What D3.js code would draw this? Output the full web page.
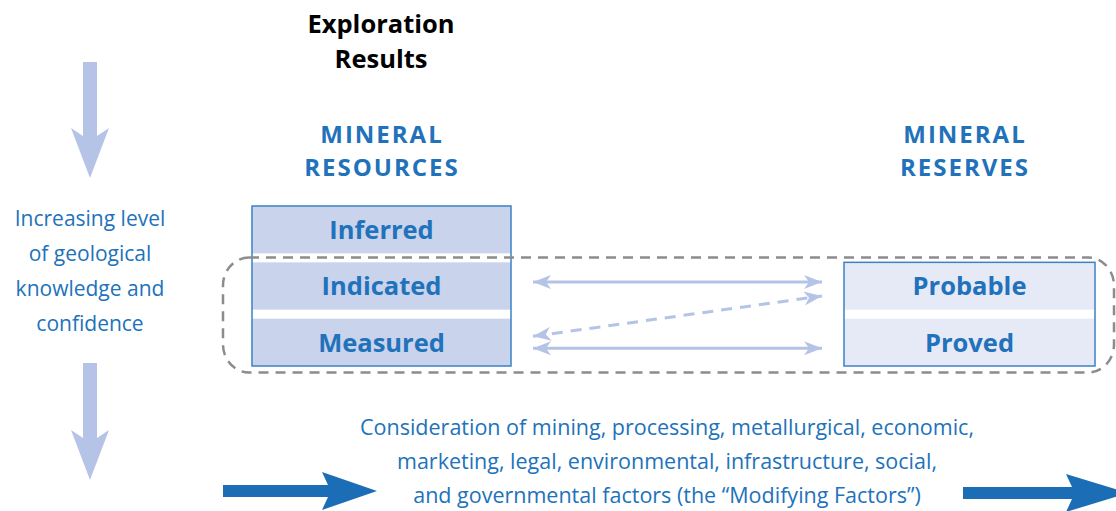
<!DOCTYPE html>
<html>
<head>
<meta charset="utf-8">
<script src="https://cdn.jsdelivr.net/npm/d3@7"></script>
<style>
  html, body { margin: 0; padding: 0; background: #ffffff; }
  svg { display: block; }
  text { font-family: "Open Sans", "Noto Sans", sans-serif; }
</style>
</head>
<body>
<svg id="chart" width="1116" height="511"></svg>
<script>
// ---- data ----
const titleLines = ["Exploration", "Results"];
const resourceHeading = ["MINERAL", "RESOURCES"];
const reserveHeading = ["MINERAL", "RESERVES"];
const resourceCategories = ["Inferred", "Indicated", "Measured"];
const reserveCategories = ["Probable", "Proved"];
const reserveAlignsWith = ["Indicated", "Measured"];
const sideLabelLines = ["Increasing level", "of geological", "knowledge and", "confidence"];
const modifyingLines = [
  "Consideration of mining, processing, metallurgical, economic,",
  "marketing, legal, environmental, infrastructure, social,",
  "and governmental factors (the \u201cModifying Factors\u201d)"
];
// links between categories
const links = [
  { a: "Indicated", b: "Probable", dashed: false },
  { a: "Measured", b: "Probable", dashed: true },
  { a: "Measured", b: "Proved", dashed: false }
];

// ---- colours ----
const blueText = "#2172ba";
const paleArrow = "#b5c4e6";
const resFill = "#c9d3ec";
const resvFill = "#e6e9f6";
const boxStroke = "#3a83c6";
const darkArrow = "#1b6db5";
const dashGrey = "#8c8c8c";

const svg = d3.select("#chart");

// ---- scales ----
const rowScale = d3.scaleBand().domain(resourceCategories).range([206, 366]).paddingInner(0.16).paddingOuter(0);
const colX = d3.scaleOrdinal().domain(["resources", "reserves"]).range([252, 844]);
const colW = d3.scaleOrdinal().domain(["resources", "reserves"]).range([259, 251]);

// multi-line text helper
function multiline(lines, x, y0, step, size, weight, fill, spacing) {
  const g = svg.append("g");
  g.selectAll("text").data(lines).join("text")
    .attr("text-anchor", "middle").attr("font-size", size).attr("font-weight", weight)
    .attr("fill", fill).attr("letter-spacing", spacing || null)
    .attr("x", x).attr("y", (d, i) => y0 + i * step).attr("dy", "0.36em").text(d => d);
  return g;
}

// ---- top title & headings ----
multiline(titleLines, 381, 24, 35, 25.5, 700, "#000");
multiline(resourceHeading, 382, 134, 33, 24, 700, blueText, 2);
multiline(reserveHeading, 965, 134, 33, 24, 700, blueText, 2);

// ---- resource box ----
const gRes = svg.append("g");
const rx0 = colX("resources"), rw = colW("resources");
gRes.selectAll("rect.row").data(resourceCategories).join("rect")
  .attr("class", "row").attr("x", rx0).attr("y", d => rowScale(d))
  .attr("width", rw).attr("height", rowScale.bandwidth()).attr("fill", resFill);
gRes.append("rect").attr("x", rx0).attr("y", rowScale.range()[0])
  .attr("width", rw).attr("height", rowScale.range()[1] - rowScale.range()[0])
  .attr("fill", "none").attr("stroke", boxStroke).attr("stroke-width", 1.5);
gRes.selectAll("text").data(resourceCategories).join("text")
  .attr("x", rx0 + rw / 2).attr("y", d => rowScale(d) + rowScale.bandwidth() / 2).attr("dy", "0.36em")
  .attr("text-anchor", "middle").attr("font-size", 25.5).attr("font-weight", 700)
  .attr("fill", blueText).text(d => d);

// ---- reserve box ----
const gResv = svg.append("g");
const vx0 = colX("reserves"), vw = colW("reserves");
const reserveY = d => rowScale(reserveAlignsWith[reserveCategories.indexOf(d)]);
gResv.selectAll("rect.row").data(reserveCategories).join("rect")
  .attr("class", "row").attr("x", vx0).attr("y", d => reserveY(d))
  .attr("width", vw).attr("height", rowScale.bandwidth()).attr("fill", resvFill);
gResv.append("rect").attr("x", vx0).attr("y", rowScale(reserveAlignsWith[0]))
  .attr("width", vw).attr("height", rowScale.range()[1] - rowScale(reserveAlignsWith[0]))
  .attr("fill", "none").attr("stroke", boxStroke).attr("stroke-width", 1.5);
gResv.selectAll("text").data(reserveCategories).join("text")
  .attr("x", vx0 + vw / 2).attr("y", d => reserveY(d) + rowScale.bandwidth() / 2).attr("dy", "0.36em")
  .attr("text-anchor", "middle").attr("font-size", 25.5).attr("font-weight", 700)
  .attr("fill", blueText).text(d => d);

// ---- dashed rounded enclosure ----
svg.append("rect")
  .attr("x", 223).attr("y", 257.5).attr("width", 891).attr("height", 115).attr("rx", 26).attr("ry", 28)
  .attr("fill", "none").attr("stroke", dashGrey).attr("stroke-width", 2.5)
  .attr("stroke-dasharray", "10,7");

// ---- double-headed link arrows ----
const defs = svg.append("defs");
defs.append("marker").attr("id", "head").attr("viewBox", "0 0 18 14")
  .attr("refX", 18).attr("refY", 7).attr("markerWidth", 18).attr("markerHeight", 14)
  .attr("markerUnits", "userSpaceOnUse").attr("orient", "auto-start-reverse")
  .append("path").attr("d", "M0,0 L18,7 L0,14 L5,7 Z").attr("fill", paleArrow);
const linkX0 = 533, linkX1 = 822;
const yOf = name => resourceCategories.includes(name)
  ? rowScale(name) + rowScale.bandwidth() / 2
  : reserveY(name) + rowScale.bandwidth() / 2;
const linkOffset = { "Indicated-Probable": [-4, -4], "Measured-Probable": [-6, 10], "Measured-Proved": [6, 6] };
svg.append("g").selectAll("line").data(links).join("line")
  .attr("x1", linkX0).attr("x2", linkX1)
  .attr("y1", d => yOf(d.a) + linkOffset[d.a + "-" + d.b][0])
  .attr("y2", d => yOf(d.b) + linkOffset[d.a + "-" + d.b][1])
  .attr("stroke", paleArrow).attr("stroke-width", 3)
  .attr("stroke-dasharray", d => d.dashed ? "11,8" : null)
  .attr("marker-start", "url(#head)").attr("marker-end", "url(#head)");

// ---- vertical pale arrows ----
function vArrow(x, y0, yHead, yTip) {
  const p = d3.path();
  p.moveTo(x - 7, y0); p.lineTo(x + 7, y0); p.lineTo(x + 7, yHead + 8);
  p.lineTo(x + 19, yHead); p.lineTo(x, yTip); p.lineTo(x - 19, yHead);
  p.lineTo(x - 7, yHead + 8); p.closePath();
  svg.append("path").attr("d", p.toString()).attr("fill", paleArrow);
}
vArrow(90, 62, 128, 178);
vArrow(90, 363, 430, 480);

// ---- side label ----
multiline(sideLabelLines, 90, 218, 35, 21, 400, blueText);

// ---- modifying factors text ----
multiline(modifyingLines, 667, 427, 34, 21.5, 400, blueText);

// ---- dark horizontal arrows ----
function hArrow(x0, xHead, xTip, y) {
  const p = d3.path();
  p.moveTo(x0, y - 6); p.lineTo(xHead + 6, y - 6); p.lineTo(xHead, y - 19);
  p.lineTo(xTip, y); p.lineTo(xHead, y + 19); p.lineTo(xHead + 6, y + 6);
  p.lineTo(x0, y + 6); p.closePath();
  svg.append("path").attr("d", p.toString()).attr("fill", darkArrow);
}
hArrow(223, 322, 377, 491);
hArrow(963, 1066, 1128, 493);
</script>
</body>
</html>
